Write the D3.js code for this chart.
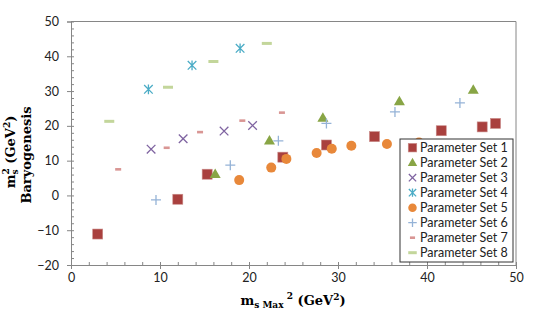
<!DOCTYPE html>
<html><head><meta charset="utf-8">
<script src="https://cdn.jsdelivr.net/npm/d3@7"></script>
<style>body{margin:0;background:#fff}</style></head>
<body><svg id="c" width="538" height="330"></svg>
<script>
const seriesNames = ["Parameter Set 1","Parameter Set 2","Parameter Set 3","Parameter Set 4","Parameter Set 5","Parameter Set 6","Parameter Set 7","Parameter Set 8"];
const set1 = [[3.0,-11.1],[12.0,-1.1],[15.3,6.1],[23.8,11.0],[28.7,14.5],[34.1,16.9],[41.6,18.6],[46.2,19.7],[47.7,20.7]];
const set2 = [[16.2,6.1],[22.3,15.7],[28.3,22.3],[36.9,27.0],[45.2,30.3]];
const set3 = [[9.0,13.3],[12.6,16.3],[17.2,18.5],[20.4,20.1]];
const set4 = [[8.7,30.5],[13.6,37.4],[19.0,42.3]];
const set5 = [[18.9,4.4],[22.5,8.0],[24.2,10.5],[27.6,12.2],[29.3,13.4],[31.5,14.3],[35.5,14.8],[39.1,15.2]];
const set6 = [[9.55,-1.3],[17.9,8.7],[23.3,15.7],[28.7,20.7],[36.4,24.0],[43.7,26.6]];
const set7 = [[5.3,7.5],[10.75,13.7],[14.5,18.2],[19.25,21.5],[23.7,23.8]];
const set8 = [[4.3,21.3],[10.9,31.1],[16.0,38.5],[22.0,43.7]];
const xTicks = [0,10,20,30,40,50];
const yTicks = [-20,-10,0,10,20,30,40,50];

const allSets = [set1,set2,set3,set4,set5,set6,set7,set8];
const markers = ["square","triangle","x","star","circle","plus","dash","longdash"];
const colors = ["#A9403E","#88A545","#7F64A1","#4BACC6","#E8883A","#95B3D7","#D99694","#C3D69B"];

const svg = d3.select("#c");
const L = 71, R = 516, T = 21.5, B = 265;
const x = d3.scaleLinear().domain([0,50]).range([L,R]);
const y = d3.scaleLinear().domain([-20,50]).range([B,T]);

// frame (top and right)
svg.append("path").attr("d",`M${L},${T}H${R}V${B}`).attr("fill","none").attr("stroke","#868686").attr("stroke-width",1);

const tickFont = "Lato, 'Open Sans', sans-serif";
// x axis
const minorX = d3.range(0,50.01,2);
const gxm = svg.append("g").attr("transform",`translate(0,${B})`).call(d3.axisBottom(x).tickValues(minorX).tickSize(-3).tickFormat(""));
const gx = svg.append("g").attr("transform",`translate(0,${B})`).call(d3.axisBottom(x).tickValues(xTicks).tickSize(4).tickPadding(4));
// y axis
const minorY = d3.range(-20,50.01,2);
const gym = svg.append("g").attr("transform",`translate(${L},0)`).call(d3.axisLeft(y).tickValues(minorY).tickSize(-3).tickFormat(""));
const gy = svg.append("g").attr("transform",`translate(${L},0)`).call(d3.axisLeft(y).tickValues(yTicks).tickSize(4).tickPadding(8));
[gx,gy,gxm,gym].forEach(g=>{
  g.selectAll("path.domain").attr("stroke","#868686").attr("stroke-width",1);
  g.selectAll(".tick line").attr("stroke","#868686");
  g.selectAll("text").attr("font-family",tickFont).attr("font-size","12.5px").attr("fill","#222");
});
gym.select("path.domain").remove(); gxm.select("path.domain").remove();

function drawMarker(g, type, color, cx, cy, scale=1){
  const s = scale;
  if(type==="square"){
    g.append("rect").attr("x",cx-5*s).attr("y",cy-5*s).attr("width",10*s).attr("height",10*s).attr("fill",color).attr("stroke","#c98a88").attr("stroke-width",0.6);
  } else if(type==="circle"){
    g.append("circle").attr("cx",cx).attr("cy",cy).attr("r",5*s).attr("fill",color);
  } else if(type==="triangle"){
    const h=9.5*s, w=11*s;
    g.append("path").attr("d",`M${cx},${cy-h*0.6}L${cx+w/2},${cy+h*0.4}L${cx-w/2},${cy+h*0.4}Z`).attr("fill",color);
  } else if(type==="x"){
    const r=4.3*s;
    g.append("path").attr("d",`M${cx-r},${cy-r}L${cx+r},${cy+r}M${cx-r},${cy+r}L${cx+r},${cy-r}`).attr("stroke",color).attr("stroke-width",1.3).attr("fill","none");
  } else if(type==="star"){
    const r=4.3*s;
    g.append("path").attr("d",`M${cx-r},${cy-r}L${cx+r},${cy+r}M${cx-r},${cy+r}L${cx+r},${cy-r}M${cx},${cy-r-0.5}L${cx},${cy+r+0.5}`).attr("stroke",color).attr("stroke-width",1.3).attr("fill","none");
  } else if(type==="plus"){
    const r=5*s;
    g.append("path").attr("d",`M${cx-r},${cy}L${cx+r},${cy}M${cx},${cy-r}L${cx},${cy+r}`).attr("stroke",color).attr("stroke-width",1.3).attr("fill","none");
  } else if(type==="dash"){
    g.append("rect").attr("x",cx-3*s).attr("y",cy-1.3).attr("width",6*s).attr("height",2.6).attr("fill",color);
  } else if(type==="longdash"){
    g.append("rect").attr("x",cx-5*s).attr("y",cy-1.5).attr("width",10*s).attr("height",3).attr("fill",color);
  }
}

const pts = svg.append("g");
allSets.forEach((set,i)=>{
  const g = pts.append("g");
  set.forEach(d=>drawMarker(g, markers[i], colors[i], x(d[0]), y(d[1])));
});

// legend
const lg = svg.append("g");
lg.append("rect").attr("x",400).attr("y",139).attr("width",113).attr("height",123).attr("fill","#fff").attr("stroke","#333").attr("stroke-width",1);
seriesNames.forEach((n,i)=>{
  const cy = 147.7 + i*15;
  drawMarker(lg, markers[i], colors[i], 412.5, cy, 0.85);
  lg.append("text").attr("x",420).attr("y",cy+4.3).attr("font-family",tickFont).attr("font-size","12.5px").attr("fill","#222").text(n);
});

// axis titles
const titleFont = "'DejaVu Serif', serif";
const xt = svg.append("text").attr("x",293).attr("y",305).attr("text-anchor","middle")
  .attr("font-family",titleFont).attr("font-weight","bold").attr("font-size","13px").attr("fill","#000");
xt.append("tspan").text("m");
xt.append("tspan").attr("dy",3).attr("font-size","9px").text("s Max");
xt.append("tspan").attr("dy",-9).attr("font-size","9px").text(" 2");
xt.append("tspan").attr("dy",6).text(" (GeV");
xt.append("tspan").attr("dy",-5).attr("font-size","9px").text("2");
xt.append("tspan").attr("dy",5).text(")");

const yt1 = svg.append("text").attr("transform","translate(15,152) rotate(-90)").attr("text-anchor","middle")
  .attr("font-family",titleFont).attr("font-weight","bold").attr("font-size","13px").attr("fill","#000");
yt1.append("tspan").text("m");
yt1.append("tspan").attr("dy",3).attr("font-size","9px").text("s");
yt1.append("tspan").attr("dx",-5).attr("dy",-9).attr("font-size","9px").text("2");
yt1.append("tspan").attr("dy",6).text(" (GeV");
yt1.append("tspan").attr("dy",-5).attr("font-size","9px").text("2");
yt1.append("tspan").attr("dy",5).text(")");
svg.append("text").attr("transform","translate(31,155) rotate(-90)").attr("text-anchor","middle")
  .attr("font-family",titleFont).attr("font-weight","bold").attr("font-size","13px").attr("fill","#000").text("Baryogenesis");
</script>
</body></html>
